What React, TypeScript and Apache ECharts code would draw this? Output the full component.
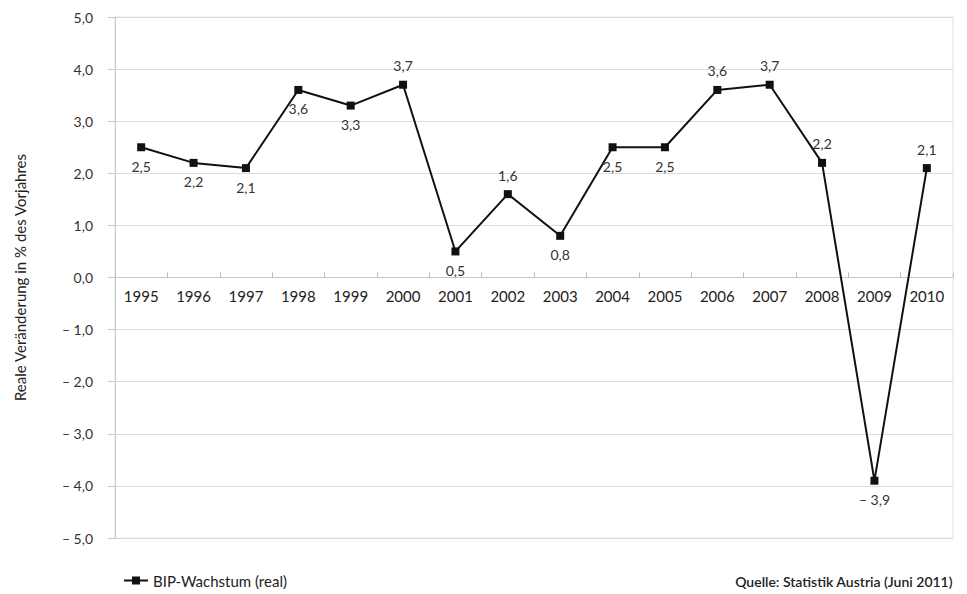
import React, { useEffect, useRef } from "react";
import * as echarts from "echarts";

const years = ["1995","1996","1997","1998","1999","2000","2001","2002","2003","2004","2005","2006","2007","2008","2009","2010"];
const growth = [2.5, 2.2, 2.1, 3.6, 3.3, 3.7, 0.5, 1.6, 0.8, 2.5, 2.5, 3.6, 3.7, 2.2, -3.9, 2.1];
const labelPos = ["bottom","bottom","bottom","bottom","bottom","top","bottom","top","bottom","bottom","bottom","top","top","top","bottom","top"];
const seriesName = "BIP-Wachstum (real)";
const yAxisTitle = "Reale Veränderung in % des Vorjahres";
const sourceText = "Quelle: Statistik Austria (Juni 2011)";

const fmt = (v: number) => {
  const s = Math.abs(v).toFixed(1).replace(".", ",");
  return v < 0 ? "– " + s : s;
};

const GRID_TOP = 17;
const GRID_BOTTOM = 56;
const H = 594;

export default function App() {
  const ref = useRef<HTMLDivElement>(null);
  useEffect(() => {
    if (!ref.current) return;
    const chart = echarts.init(ref.current, undefined, { renderer: "svg" });
    const font = "Lato";
    const plotH = H - GRID_TOP - GRID_BOTTOM;
    chart.setOption({
      animation: false,
      backgroundColor: "#ffffff",
      textStyle: { fontFamily: font },
      grid: {
        left: 115, right: 14, top: GRID_TOP, bottom: GRID_BOTTOM, containLabel: false,
        show: true, borderColor: "#e2e2e2", borderWidth: 1,
      },
      legend: {
        left: 118,
        top: 568,
        itemWidth: 24,
        itemHeight: 10,
        textStyle: { fontFamily: font, fontSize: 15, color: "#222" },
        data: [seriesName],
      },
      graphic: [
        {
          type: "text",
          right: 14,
          top: 574,
          style: { text: sourceText, font: `600 14px ${font}`, fill: "#222" },
        },
      ],
      xAxis: {
        type: "category",
        data: years,
        boundaryGap: true,
        position: "bottom",
        offset: -plotH / 2,
        axisLine: { show: true, onZero: false, lineStyle: { color: "#c8c8c8", width: 1 } },
        axisTick: { show: true, inside: true, length: 5, lineStyle: { color: "#bbb" } },
        axisLabel: { fontFamily: font, fontSize: 15, color: "#222", margin: 11 },
        splitLine: { show: false },
      },
      yAxis: {
        type: "value",
        min: -5,
        max: 5,
        interval: 1,
        name: yAxisTitle,
        nameLocation: "middle",
        nameGap: 88,
        nameRotate: 90,
        nameTextStyle: { fontFamily: font, fontSize: 15, color: "#222" },
        axisLine: { show: true, onZero: false, lineStyle: { color: "#c8c8c8" } },
        axisTick: { show: true, length: 7, lineStyle: { color: "#c8c8c8" } },
        axisLabel: {
          fontFamily: font,
          fontSize: 14,
          color: "#333",
          margin: 22,
          formatter: (v: number) => fmt(v),
        },
        splitLine: { show: true, lineStyle: { color: "#dcdcdc", width: 1 } },
      },
      series: [
        {
          name: seriesName,
          type: "line",
          symbol: "rect",
          symbolSize: 8,
          itemStyle: { color: "#111" },
          lineStyle: { color: "#111", width: 2 },
          label: {
            show: true,
            fontFamily: font,
            fontSize: 14,
            color: "#333",
            distance: 8,
            formatter: (p: any) => fmt(p.value),
          },
          data: growth.map((v, i) => ({
            value: v,
            label: { position: labelPos[i] },
          })),
        },
      ],
    });
    return () => chart.dispose();
  }, []);
  return (
    <div
      ref={ref}
      style={{ position: "fixed", left: 0, top: 0, width: 967, height: 594, background: "#fff" }}
    />
  );
}
